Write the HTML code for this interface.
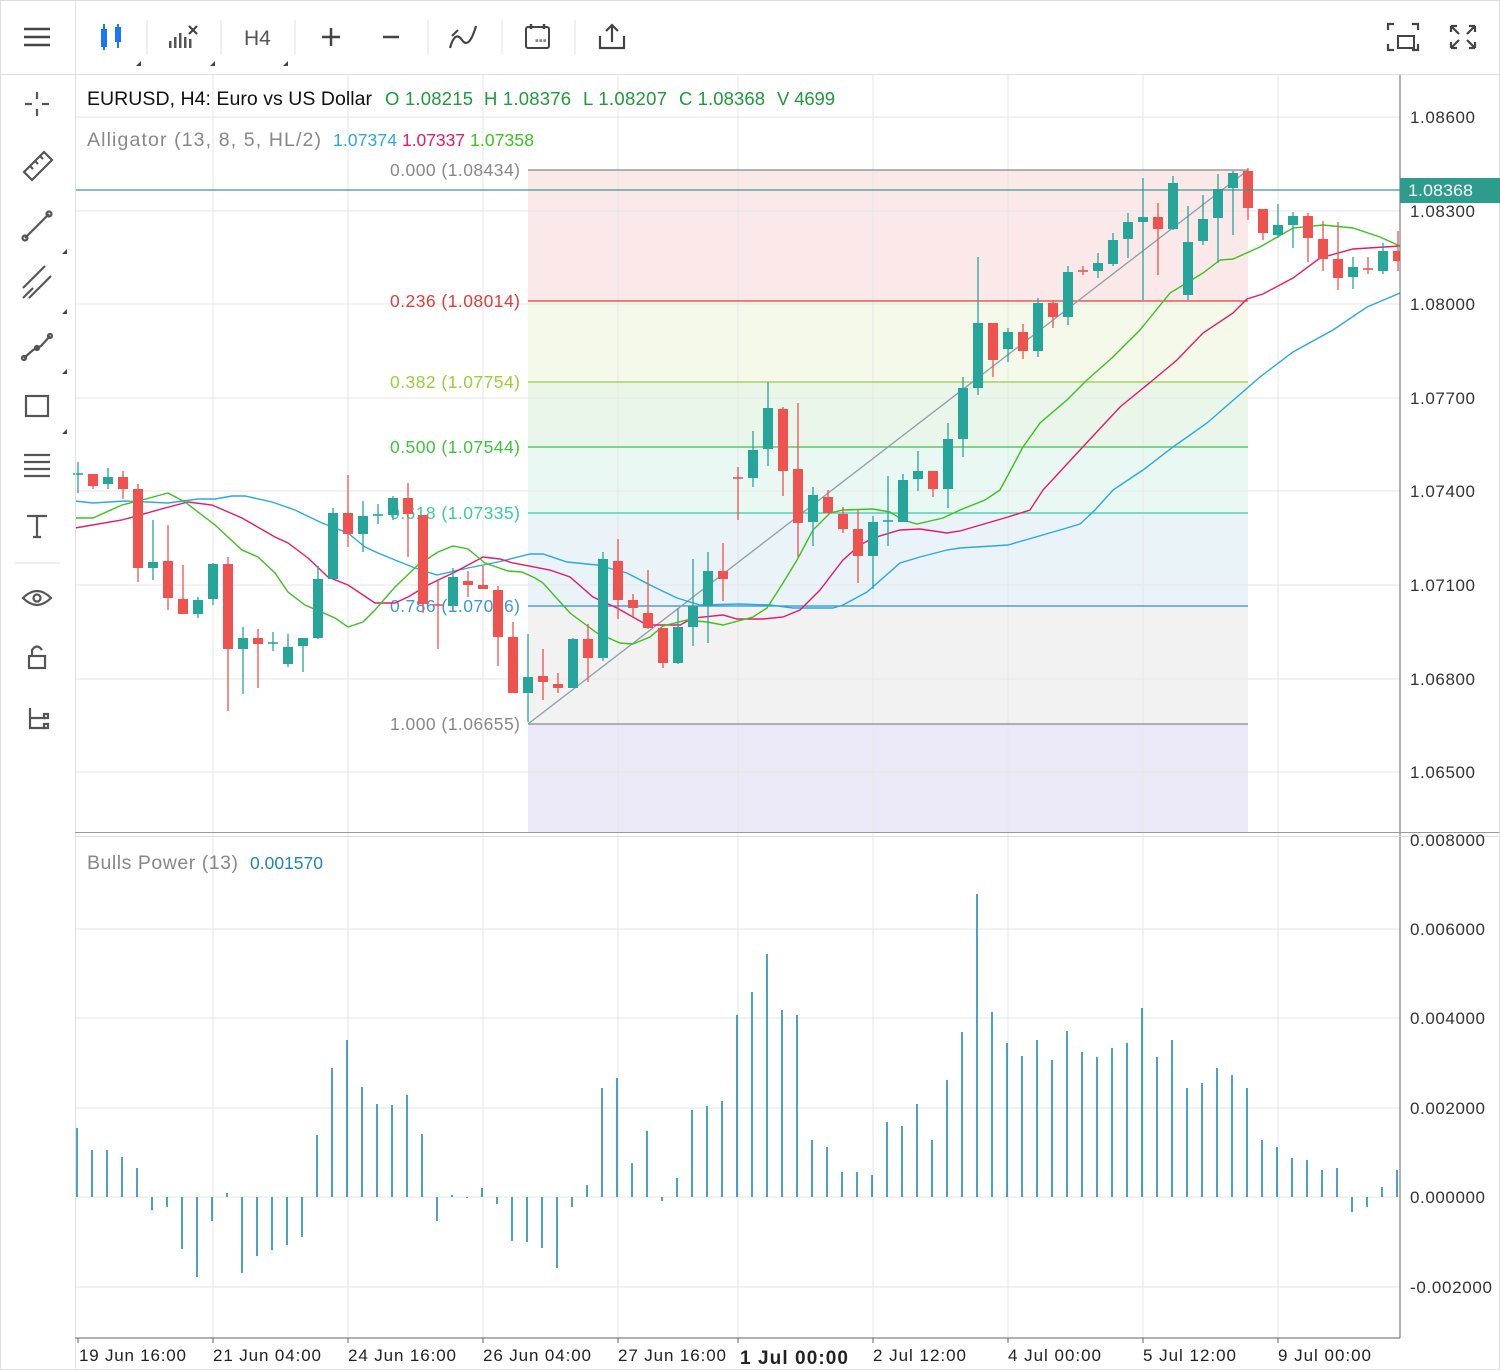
<!DOCTYPE html>
<html><head><meta charset="utf-8"><style>
html,body{margin:0;padding:0;background:#fff;}
svg{display:block;font-family:"Liberation Sans",sans-serif;}
</style></head><body>
<svg id="s" width="1500" height="1370" viewBox="0 0 1500 1370" xmlns="http://www.w3.org/2000/svg">
<rect width="1500" height="1370" fill="#fff"/>
<rect x="528" y="170" width="720" height="131" fill="#fbe9ea"/>
<rect x="528" y="301" width="720" height="81" fill="#f5f9ea"/>
<rect x="528" y="382" width="720" height="65" fill="#e9f6e9"/>
<rect x="528" y="447" width="720" height="66" fill="#e9f8f2"/>
<rect x="528" y="513" width="720" height="93" fill="#e9f3f8"/>
<rect x="528" y="606" width="720" height="118" fill="#f2f2f2"/>
<rect x="528" y="724" width="720" height="109" fill="#ebe9f7"/>
<g id="grid" stroke="#e6e6e6" stroke-width="1"></g>
<g stroke-width="1.3">
<line x1="528" y1="170" x2="1248" y2="170" stroke="#888"/>
<line x1="528" y1="301" x2="1248" y2="301" stroke="#e03c3c"/>
<line x1="528" y1="382" x2="1248" y2="382" stroke="#9ccc3c"/>
<line x1="528" y1="447" x2="1248" y2="447" stroke="#3cc43c"/>
<line x1="528" y1="513" x2="1248" y2="513" stroke="#3cc8a0"/>
<line x1="528" y1="606" x2="1248" y2="606" stroke="#2a90d8"/>
<line x1="528" y1="724" x2="1248" y2="724" stroke="#888"/>
</g>
<g font-size="17.5" lengthAdjust="spacingAndGlyphs">
<text x="390" y="176" fill="#888" textLength="130">0.000 (1.08434)</text>
<text x="390" y="307" fill="#e03c3c" textLength="130">0.236 (1.08014)</text>
<text x="390" y="388" fill="#9ccc3c" textLength="130">0.382 (1.07754)</text>
<text x="390" y="453" fill="#3cc43c" textLength="130">0.500 (1.07544)</text>
<text x="390" y="519" fill="#3cc8a0" textLength="130">0.618 (1.07335)</text>
<text x="390" y="612" fill="#3a98d8" textLength="130">0.786 (1.07036)</text>
<text x="390" y="730" fill="#888" textLength="130">1.000 (1.06655)</text>
</g>
<line x1="528" y1="724" x2="1248" y2="170" stroke="#8a9ea8" stroke-width="1.3"/>
<g id="allig" fill="none" stroke-width="1.4"></g>
<g id="cand"></g>
<line x1="75" y1="190" x2="1400" y2="190" stroke="#3a9a90" stroke-width="1.2"/>
<g id="bars" stroke="#1e8ab4" stroke-width="1.6"></g>
<line x1="0" y1="74.5" x2="1500" y2="74.5" stroke="#e0e0e0"/>
<line x1="75.5" y1="0" x2="75.5" y2="1370" stroke="#e0e0e0"/>
<line x1="1400" y1="75" x2="1400" y2="1338" stroke="#666" stroke-width="1"/>
<line x1="75" y1="832.5" x2="1500" y2="832.5" stroke="#999"/>
<line x1="75" y1="836.5" x2="1500" y2="836.5" stroke="#ddd"/>
<line x1="75" y1="1338" x2="1400" y2="1338" stroke="#666"/>
<rect x="0.5" y="0.5" width="1499" height="1369" fill="none" stroke="#ddd"/>
<g font-size="17" fill="#333" lengthAdjust="spacingAndGlyphs">
<text x="1410" y="123" textLength="65">1.08600</text>
<text x="1410" y="217" textLength="65">1.08300</text>
<text x="1410" y="310" textLength="65">1.08000</text>
<text x="1410" y="404" textLength="65">1.07700</text>
<text x="1410" y="497" textLength="65">1.07400</text>
<text x="1410" y="591" textLength="65">1.07100</text>
<text x="1410" y="685" textLength="65">1.06800</text>
<text x="1410" y="778" textLength="65">1.06500</text>
<text x="1410" y="846" textLength="75">0.008000</text>
<text x="1410" y="935" textLength="75">0.006000</text>
<text x="1410" y="1024" textLength="75">0.004000</text>
<text x="1410" y="1114" textLength="75">0.002000</text>
<text x="1410" y="1203" textLength="75">0.000000</text>
<text x="1410" y="1293" textLength="82">-0.002000</text>
</g>
<rect x="1400" y="178" width="100" height="25" fill="#2d9c8c"/>
<text x="1408" y="196" font-size="17" fill="#fff" textLength="65" lengthAdjust="spacingAndGlyphs">1.08368</text>
<g font-size="17" fill="#222" lengthAdjust="spacingAndGlyphs">
<text x="79" y="1361" textLength="107">19 Jun 16:00</text>
<text x="213" y="1361" textLength="108">21 Jun 04:00</text>
<text x="348" y="1361" textLength="108">24 Jun 16:00</text>
<text x="483" y="1361" textLength="108">26 Jun 04:00</text>
<text x="618" y="1361" textLength="108">27 Jun 16:00</text>
<text x="740" y="1364" font-weight="bold" font-size="19" textLength="108">1 Jul 00:00</text>
<text x="873" y="1361" textLength="93">2 Jul 12:00</text>
<text x="1008" y="1361" textLength="93">4 Jul 00:00</text>
<text x="1143" y="1361" textLength="93">5 Jul 12:00</text>
<text x="1278" y="1361" textLength="93">9 Jul 00:00</text>
</g>
<g stroke="#666"><line x1="78" y1="1338" x2="78" y2="1343"/><line x1="213" y1="1338" x2="213" y2="1343"/><line x1="348" y1="1338" x2="348" y2="1343"/><line x1="483" y1="1338" x2="483" y2="1343"/><line x1="618" y1="1338" x2="618" y2="1343"/><line x1="738" y1="1338" x2="738" y2="1343"/><line x1="873" y1="1338" x2="873" y2="1343"/><line x1="1008" y1="1338" x2="1008" y2="1343"/><line x1="1143" y1="1338" x2="1143" y2="1343"/><line x1="1278" y1="1338" x2="1278" y2="1343"/></g>
<g lengthAdjust="spacingAndGlyphs">
<text x="87" y="105" font-size="19.5" fill="#111" textLength="285">EURUSD, H4: Euro vs US Dollar</text>
<g font-size="18.5" fill="#1e9a3a">
<text x="385" y="105" textLength="88">O 1.08215</text>
<text x="484" y="105" textLength="87">H 1.08376</text>
<text x="583" y="105" textLength="84">L 1.08207</text>
<text x="679" y="105" textLength="86">C 1.08368</text>
<text x="777" y="105" textLength="58">V 4699</text>
</g>
<text x="87" y="146" font-size="19.5" fill="#888" textLength="234">Alligator (13, 8, 5, HL/2)</text>
<text x="333" y="146" font-size="17.5" fill="#2aa8e6" textLength="64">1.07374</text>
<text x="402" y="146" font-size="17.5" fill="#e8186a" textLength="63">1.07337</text>
<text x="470" y="146" font-size="17.5" fill="#3cc21c" textLength="64">1.07358</text>
<text x="87" y="869" font-size="19.5" fill="#888" textLength="151">Bulls Power (13)</text>
<text x="250" y="869" font-size="17.5" fill="#1e86b0" textLength="73">0.001570</text>
</g>
<g stroke="#e0e0e0"><line x1="147" y1="20" x2="147" y2="55"/><line x1="221" y1="20" x2="221" y2="55"/><line x1="295" y1="20" x2="295" y2="55"/><line x1="428" y1="20" x2="428" y2="55"/><line x1="502" y1="20" x2="502" y2="55"/><line x1="575" y1="20" x2="575" y2="55"/></g>
<g stroke="#444" stroke-width="2.5" fill="none">
<line x1="24" y1="29" x2="50" y2="29"/><line x1="24" y1="37" x2="50" y2="37"/><line x1="24" y1="45" x2="50" y2="45"/>
<line x1="322" y1="37" x2="340" y2="37"/><line x1="331" y1="28" x2="331" y2="46"/>
<line x1="383" y1="37" x2="399" y2="37"/>
<path d="M450 48 Q455 30 462 40 T476 26" stroke-width="2.2"/><line x1="452" y1="36" x2="458" y2="30" stroke-width="2"/>
<rect x="526" y="27" width="23" height="21" rx="2" stroke-width="2"/><line x1="531" y1="24" x2="531" y2="29"/><line x1="544" y1="24" x2="544" y2="29"/>
<path d="M600 36 V48 H624 V36 M612 42 V25 M606 31 L612 25 L618 31" stroke-width="2.2"/>
<path d="M1388 30 V24 H1394 M1412 24 H1418 V30 M1418 44 V50 H1412 M1394 50 H1388 V44" stroke-width="2.2"/>
<rect x="1398" y="36" width="16" height="12" stroke-width="2"/>
<path d="M1451 26 L1459 34 M1451 26 H1457 M1451 26 V32 M1475 26 L1467 34 M1475 26 H1469 M1475 26 V32 M1451 48 L1459 40 M1451 48 H1457 M1451 48 V42 M1475 48 L1467 40 M1475 48 H1469 M1475 48 V42" stroke-width="2.2"/>
</g>
<g fill="#1976ff"><rect x="101" y="29" width="6" height="18"/><rect x="115" y="27" width="6" height="15"/><rect x="103" y="24" width="2" height="26"/><rect x="117" y="24" width="2" height="24"/></g>
<g fill="#555"><rect x="169" y="41" width="2.5" height="7"/><rect x="174" y="37" width="2.5" height="11"/><rect x="179" y="33" width="2.5" height="15"/><rect x="184" y="37" width="2.5" height="11"/><rect x="189" y="39" width="2.5" height="9"/></g>
<path d="M189 26 L197 34 M197 26 L189 34" stroke="#444" stroke-width="2.2"/>
<text x="244" y="45" font-size="21" fill="#555">H4</text>
<g fill="#444"><path d="M136 66 l5 -5 v5z"/><path d="M210 66 l5 -5 v5z"/><path d="M283 66 l5 -5 v5z"/></g>
<g fill="#888" font-size="11"><text x="535" y="44">▪▪▪</text></g>
<g stroke="#555" stroke-width="2.2" fill="none">
<path d="M37 92 V99 M37 109 V116 M25 104 H32 M42 104 H49"/>
<path d="M24 172 L44 152 L52 160 L32 180 Z M30 166 l3 3 M35 161 l3 3 M40 156 l3 3"/>
<path d="M25 238 L49 214"/><circle cx="25" cy="238" r="2.5"/><circle cx="49" cy="214" r="2.5"/>
<path d="M23 288 L45 266 M29 298 L51 276 M23 298 L33 288"/>
<path d="M24 358 L33 350 L41 346 L50 336"/><circle cx="24" cy="358" r="2"/><circle cx="37" cy="348" r="2"/><circle cx="50" cy="336" r="2"/>
<rect x="26" y="396" width="22" height="20"/>
<path d="M24 455 H50 M24 462 H50 M24 469 H50 M24 476 H50"/>
<path d="M27 516 H47 M37 516 V537 M33 537 H41"/>
<path d="M23 598 Q37 584 51 598 Q37 612 23 598 Z"/><circle cx="37" cy="598" r="3.5"/>
<rect x="29" y="656" width="16" height="12"/><path d="M32 656 V650 Q37 643 42 650"/>
<path d="M30 708 V728 H46 M30 718 H46"/><rect x="44" y="714" width="4" height="4"/><rect x="44" y="724" width="4" height="4"/>
</g>
<line x1="15" y1="563" x2="60" y2="563" stroke="#e0e0e0"/>
<g fill="#444"><path d="M62 254 l5 -5 v5z"/><path d="M62 314 l5 -5 v5z"/><path d="M62 374 l5 -5 v5z"/><path d="M62 434 l5 -5 v5z"/></g>
</svg>
<script>
var NS="http://www.w3.org/2000/svg";
function el(p,t,a){var e=document.createElementNS(NS,t);for(var k in a)e.setAttribute(k,a[k]);p.appendChild(e);return e;}
var g=document.getElementById('grid');
[117,211,304,398,491,585,679,772,929,1018,1108,1197,1287].forEach(function(y){el(g,'line',{x1:75,x2:1400,y1:y,y2:y});});
[213,348,483,618,738,873,1008,1143,1278].forEach(function(x){el(g,'line',{x1:x,x2:x,y1:75,y2:1338});});
var C=[[474,475,462,493,1],[474,486,474,489,0],[484,477,468,489,1],[477,489,471,499,0],[489,568,484,582,0],[568,562,520,580,1],[561,598,525,610,0],[599,614,565,614,0],[614,600,597,618,1],[599,564,563,605,1],
[564,649,557,711,0],[649,638,627,694,1],[638,644,629,688,0],[643,643,632,651,1],[664,647,634,667,1],[646,638,638,672,1],[638,579,566,639,1],[579,513,508,579,1],[513,534,475,547,0],[534,516,501,552,1],
[515,515,504,524,1],[515,498,496,520,1],[498,514,483,557,0],[515,604,515,613,0],[605,605,581,649,0],[606,577,568,606,1],[581,585,571,597,0],[585,589,566,589,0],[590,637,586,666,0],[637,693,622,693,0],
[693,677,634,722,1],[676,682,649,700,0],[684,688,673,693,0],[688,639,638,688,1],[639,658,624,682,0],[658,559,552,661,1],[561,600,539,619,0],[600,608,594,617,0],[613,628,570,629,0],[628,663,628,668,0],
[663,627,608,664,1],[627,606,559,646,1],[606,571,552,643,1],[571,579,543,601,0],[478,478,467,520,0],[478,450,431,487,1],[449,408,382,466,1],[409,471,407,496,0],[469,523,403,557,0],[522,495,487,546,1],
[497,513,490,513,0],[514,529,507,533,0],[529,556,510,583,0],[556,522,516,589,1],[521,521,476,546,1],[522,480,474,522,1],[479,471,451,491,1],[471,489,471,497,0],[489,439,423,508,1],[439,388,377,457,1],
[388,323,257,395,1],[323,360,323,377,0],[349,332,328,362,1],[332,351,324,359,0],[351,303,298,357,1],[303,317,300,328,0],[317,272,266,325,1],[271,271,266,275,0],[271,263,253,278,1],[264,240,233,266,1],
[239,222,213,258,1],[222,217,178,300,1],[217,229,203,275,0],[229,183,176,230,1],[295,242,206,300,1],[241,219,195,245,1],[218,189,174,263,1],[188,173,171,235,1],[171,208,168,220,0],[209,233,209,240,0],
[235,225,204,238,1],[225,216,212,248,1],[216,238,213,262,0],[239,259,221,271,0],[259,278,222,290,0],[277,267,257,289,1],[269,269,257,274,0],[271,251,243,274,1],[251,261,231,271,0]];
var cg=document.getElementById('cand');
C.forEach(function(d,i){var x=78+15*i,col=d[4]?'#26a69a':'#ef5350';
 el(cg,'line',{x1:x,x2:x,y1:d[2],y2:d[3],stroke:col,'stroke-width':1.3});
 var t=Math.min(d[0],d[1]),h=Math.abs(d[0]-d[1]);
 if(h<2){el(cg,'line',{x1:x-5,x2:x+5,y1:t,y2:t,stroke:col,'stroke-width':1.6});}
 else{var w=(x+5>1400)?1400-(x-5):10;el(cg,'rect',{x:x-5,y:t,width:w,height:h,fill:col});}
});
var A=document.getElementById('allig');
function pl(col,s){el(A,'polyline',{points:s,stroke:col});}
pl('#2aa8e6',"75,501 93,503 125,501 168,503 198,499 215,499 232,496 245,496 272,502 295,510 322,523 348,533 365,547 378,553 395,560 415,568 437,575 468,568 498,562 530,554 543,554 567,562 597,565 627,573 650,585 677,598 700,605 740,604 770,605 793,608 833,608 843,605 867,592 900,563 920,557 947,550 960,548 1008,545 1060,530 1080,524 1095,510 1113,490 1143,470 1173,447 1207,423 1260,377 1293,352 1333,330 1367,307 1400,293");
pl('#e8186a',"75,528 122,520 165,508 188,502 212,505 242,518 275,537 288,543 308,558 328,577 348,585 375,603 395,603 408,597 428,585 455,572 483,557 500,559 513,563 550,570 570,577 593,597 617,608 647,625 680,625 693,618 723,615 737,619 763,619 783,617 800,610 820,590 843,560 860,545 873,538 900,530 920,529 947,533 960,531 1008,517 1030,510 1043,490 1080,450 1120,407 1153,380 1177,360 1203,333 1233,313 1247,299 1263,294 1293,278 1320,258 1353,249 1400,246");
pl('#3cc21c',"75,518 93,518 122,505 142,500 168,493 185,502 215,525 242,550 258,557 275,573 288,592 305,605 335,618 348,627 363,622 375,610 395,587 418,565 438,552 453,546 468,549 485,563 508,571 522,572 535,578 543,583 570,613 597,633 620,643 633,644 650,637 663,626 687,620 707,622 723,625 753,617 767,608 783,583 797,560 813,530 830,513 843,510 873,509 890,512 903,520 917,524 943,518 960,510 985,500 1000,490 1023,447 1040,423 1067,400 1087,380 1113,357 1140,330 1170,293 1203,273 1220,260 1233,259 1260,247 1293,228 1323,225 1353,228 1380,237 1400,246");
var B=[1128,1150,1150,1157,1168,1210,1207,1249,1277,1221,1193,1273,1256,1250,1245,1237,1135,1068,1040,1087,1104,1105,1095,1134,1221,1195,1198,1188,1204,1241,1242,1248,1268,1207,1185,1088,1078,1163,1131,1201,1178,1110,1106,1101,1015,992,954,1010,1015,1140,1147,1172,1172,1175,1122,1126,1104,1140,1080,1032,894,1012,1043,1056,1040,1060,1031,1052,1057,1048,1043,1008,1057,1040,1088,1083,1068,1075,1088,1140,1147,1158,1160,1170,1168,1212,1207,1187,1170];
var bg=document.getElementById('bars');
B.forEach(function(y,i){var x=77+15*i;el(bg,'line',{x1:x,x2:x,y1:1197,y2:y});});
</script>
</body></html>
